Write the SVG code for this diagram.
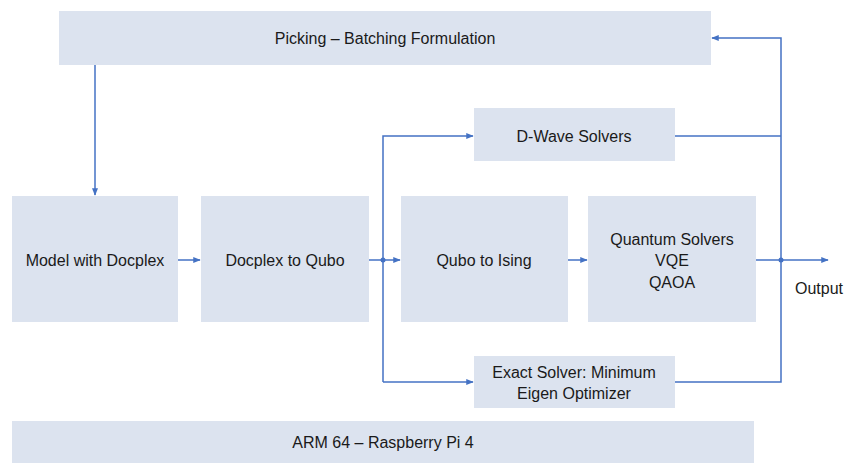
<svg xmlns="http://www.w3.org/2000/svg" width="846" height="475" viewBox="0 0 846 475">
<defs>
<marker id="ah" viewBox="0 0 10 10" refX="9" refY="5" markerWidth="5" markerHeight="5" orient="auto">
<path d="M0,1 L10,5 L0,9 z" fill="#4472c4"/>
</marker>
<style>
.box{fill:#dce3ef;}
.t{font-family:"Liberation Sans",Arial,sans-serif;font-size:16px;fill:#1a1a1a;text-anchor:middle;}
.c{fill:none;stroke:#4472c4;stroke-width:1.5;}
.dot{fill:#4472c4;}
</style>
</defs>
<rect width="846" height="475" fill="#ffffff"/>
<g id="picking">
<rect class="box" x="59" y="11" width="652" height="54"/>
<text class="t" x="385" y="44">Picking – Batching Formulation</text>
</g>
<g id="dwave">
<rect class="box" x="474" y="108" width="201" height="53"/>
<text class="t" x="574" y="142">D-Wave Solvers</text>
</g>
<g id="model">
<rect class="box" x="12" y="196" width="166" height="126"/>
<text class="t" x="95" y="266">Model with Docplex</text>
</g>
<g id="docplex">
<rect class="box" x="201" y="196" width="168" height="126"/>
<text class="t" x="285" y="266">Docplex to Qubo</text>
</g>
<g id="ising">
<rect class="box" x="401" y="196" width="167" height="126"/>
<text class="t" x="484" y="266">Qubo to Ising</text>
</g>
<g id="quantum">
<rect class="box" x="588" y="196" width="168" height="126"/>
<text class="t" x="672" y="245">Quantum Solvers</text>
<text class="t" x="672" y="266">VQE</text>
<text class="t" x="672" y="288">QAOA</text>
</g>
<g id="exact">
<rect class="box" x="474" y="356" width="201" height="52"/>
<text class="t" x="574" y="378">Exact Solver: Minimum</text>
<text class="t" x="574" y="399">Eigen Optimizer</text>
</g>
<g id="arm">
<rect class="box" x="12" y="421" width="742" height="42"/>
<text class="t" x="383" y="448">ARM 64 – Raspberry Pi 4</text>
</g>
<g id="output">
<text class="t" x="819" y="294">Output</text>
</g>
<g id="connectors">
<path class="c" d="M95,65 V195" marker-end="url(#ah)"/>
<path class="c" d="M178,260 H200" marker-end="url(#ah)"/>
<path class="c" d="M369,260 H400" marker-end="url(#ah)"/>
<path class="c" d="M383,382 V136 H473" marker-end="url(#ah)"/>
<path class="c" d="M383,382 H473" marker-end="url(#ah)"/>
<path class="c" d="M568,260 H587" marker-end="url(#ah)"/>
<path class="c" d="M756,260 H828" marker-end="url(#ah)"/>
<path class="c" d="M675,136 H781"/>
<path class="c" d="M675,382 H781 V38 H712" marker-end="url(#ah)"/>
<circle class="dot" cx="383" cy="260" r="2.5"/>
<circle class="dot" cx="781" cy="260" r="2.5"/>
</g>
</svg>
